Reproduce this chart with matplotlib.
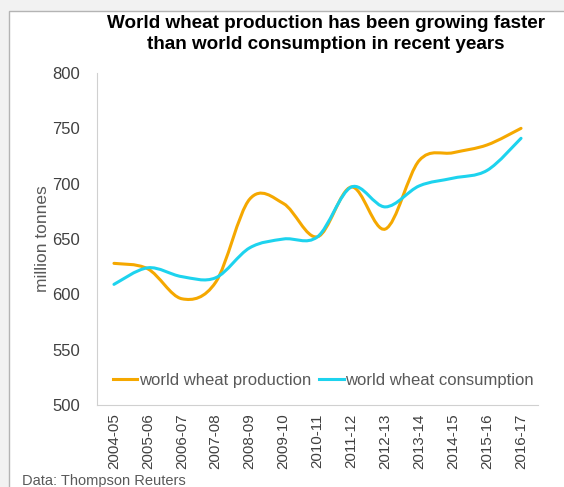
import matplotlib.pyplot as plt
from matplotlib.path import Path
from matplotlib.patches import PathPatch, Rectangle
from matplotlib.lines import Line2D

plt.rcParams['font.family'] = ['Liberation Sans', 'DejaVu Sans']

seasons = ['2004-05', '2005-06', '2006-07', '2007-08', '2008-09', '2009-10', '2010-11',
           '2011-12', '2012-13', '2013-14', '2014-15', '2015-16', '2016-17']
production = [628, 623, 596, 611, 686, 682, 652, 697, 659, 721, 728, 735, 750]
consumption = [609, 624, 616, 615, 642, 650, 652, 697, 679, 698, 705, 712, 741]

orange = '#F5A800'
cyan = '#1DD3EE'
grey = '#595959'


def smooth_path(vals):
    # Excel-style smoothed line: cubic bezier segments through each point
    pts = list(enumerate(vals))
    verts = [pts[0]]
    codes = [Path.MOVETO]
    n = len(pts)
    for i in range(n - 1):
        p0 = pts[max(i - 1, 0)]
        p1 = pts[i]
        p2 = pts[i + 1]
        p3 = pts[min(i + 2, n - 1)]
        c1 = (p1[0] + (p2[0] - p0[0]) / 6, p1[1] + (p2[1] - p0[1]) / 6)
        c2 = (p2[0] - (p3[0] - p1[0]) / 6, p2[1] - (p3[1] - p1[1]) / 6)
        verts += [c1, c2, p2]
        codes += [Path.CURVE4] * 3
    return Path(verts, codes)


fig = plt.figure(figsize=(5.64, 4.87), dpi=100, facecolor='#f2f2f2')
fig.patches.append(Rectangle((9 / 564, -0.1), 1.0, 1.1 - 11 / 487, transform=fig.transFigure,
                             facecolor='white', edgecolor='#b4b4b4', linewidth=1.0, zorder=-10))

ax = fig.add_axes([97 / 564, 1 - 405 / 487, (538 - 97) / 564, (405 - 73) / 487])
ax.set_facecolor('none')

ax.add_patch(PathPatch(smooth_path(production), facecolor='none', edgecolor=orange,
                       linewidth=2.2, capstyle='round'))
ax.add_patch(PathPatch(smooth_path(consumption), facecolor='none', edgecolor=cyan,
                       linewidth=2.2, capstyle='round'))

ax.set_xlim(-0.5, len(seasons) - 0.5)
ax.set_ylim(500, 800)
ax.set_xticks(range(len(seasons)))
ax.set_xticklabels(seasons, rotation=90, fontsize=10.9, color='#404040')
ax.set_yticks(range(500, 801, 50))
ax.tick_params(axis='y', length=0, pad=12, labelsize=12, labelcolor='#404040')
ax.tick_params(axis='x', length=0, pad=6)

for s in ['top', 'right']:
    ax.spines[s].set_visible(False)
ax.spines['left'].set_color('#d0d0d0')
ax.spines['bottom'].set_color('#d0d0d0')

ax.set_ylabel('million tonnes', fontsize=12.5, color=grey, labelpad=2)

handles = [Line2D([], [], color=orange, lw=2.2), Line2D([], [], color=cyan, lw=2.2)]
ax.legend(handles, ['world wheat production', 'world wheat consumption'], loc='center left',
          bbox_to_anchor=((113 - 97) / 441, 25 / 332), ncol=2, frameon=False, fontsize=12,
          labelcolor=grey, handlelength=1.45, handletextpad=0.1, columnspacing=0.5,
          borderpad=0, borderaxespad=0)

fig.text(326 / 564, 1 - 34 / 487,
         'World wheat production has been growing faster\nthan world consumption in recent years',
         ha='center', va='center', fontsize=13.6, fontweight='bold', color='black', linespacing=1.35)

fig.text(22 / 564, 1 - 481 / 487, 'Data: Thompson Reuters', fontsize=10.5, color='#595959',
         ha='left', va='center')

fig.savefig('out.png', dpi=100, facecolor=fig.get_facecolor())
